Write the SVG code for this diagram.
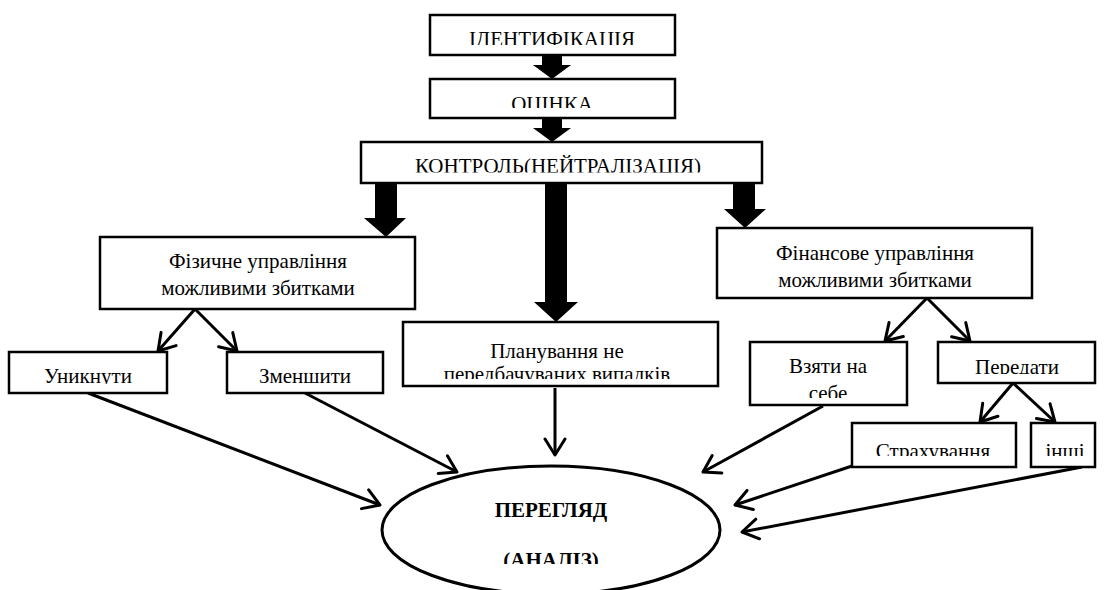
<svg xmlns="http://www.w3.org/2000/svg" width="1119" height="590" viewBox="0 0 1119 590">
<style>
.box{fill:#fff;stroke:#000;stroke-width:2.5}
.t{font-family:"Liberation Serif","Times New Roman",serif;font-size:21px;fill:#000;text-anchor:middle}
.b{font-weight:bold}
.thick{fill:#000}
.ln{stroke:#000;stroke-width:3;fill:none;marker-end:url(#v)}
</style>
<defs>
<marker id="v" markerUnits="userSpaceOnUse" markerWidth="24" markerHeight="24" viewBox="0 0 24 24" refX="18" refY="12" orient="auto">
<path d="M2,2 L18,12 L2,22" fill="none" stroke="#000" stroke-width="3" stroke-linecap="round" stroke-linejoin="round"/>
</marker>
<clipPath id="c1"><rect x="430" y="15" width="245" height="30"/></clipPath>
<clipPath id="c2"><rect x="430" y="79" width="245" height="29"/></clipPath>
<clipPath id="c3"><rect x="361" y="142" width="401" height="30.5"/></clipPath>
<clipPath id="c4"><rect x="0" y="352" width="170" height="32"/></clipPath>
<clipPath id="c5"><rect x="403" y="322" width="315" height="57"/></clipPath>
<clipPath id="c6"><rect x="750" y="342" width="157" height="56"/></clipPath>
<clipPath id="c7"><rect x="938" y="342" width="157" height="32"/></clipPath>
<clipPath id="c8"><rect x="852" y="423" width="243" height="33"/></clipPath>
<clipPath id="c9"><rect x="382" y="466" width="338" height="98"/></clipPath>
</defs>
<rect width="1119" height="590" fill="#fff"/>
<g id="connectors">
<polygon class="thick" points="542,55 562,55 562,65 571,65 552,79 533,65 542,65"/>
<polygon class="thick" points="542,118 562,118 562,128 571,128 552,142 533,128 542,128"/>
<polygon class="thick" points="375,183 397,183 397,218 406,218 386,237 364,218 375,218"/>
<polygon class="thick" points="545,183 567,183 567,302 578,302 556,322 534,302 545,302"/>
<polygon class="thick" points="733,183 755,183 755,209 766,209 745,228 724,209 733,209"/>
<line class="ln" x1="195" y1="309" x2="158" y2="351"/>
<line class="ln" x1="195" y1="309" x2="237" y2="351"/>
<line class="ln" x1="927" y1="298" x2="885" y2="341"/>
<line class="ln" x1="927" y1="298" x2="970" y2="341"/>
<line class="ln" x1="1013" y1="383" x2="980" y2="422"/>
<line class="ln" x1="1013" y1="383" x2="1055" y2="422"/>
<line class="ln" x1="88" y1="393" x2="380" y2="505"/>
<line class="ln" x1="305" y1="393" x2="457" y2="472"/>
<line class="ln" x1="555" y1="388" x2="555" y2="455"/>
<line class="ln" x1="823" y1="406" x2="703" y2="472"/>
<line class="ln" x1="852" y1="466" x2="735" y2="505"/>
<line class="ln" x1="1082" y1="467" x2="742" y2="532"/>
</g>
<g id="n-identification">
<rect class="box" x="430" y="15" width="245" height="40"/>
<text class="t" x="552" y="46" clip-path="url(#c1)">ІДЕНТИФІКАЦІЯ</text>
</g>
<g id="n-assessment">
<rect class="box" x="430" y="79" width="245" height="39"/>
<text class="t" x="552" y="111" clip-path="url(#c2)">ОЦІНКА</text>
</g>
<g id="n-control">
<rect class="box" x="361" y="142" width="401" height="41"/>
<text class="t" x="558" y="173" clip-path="url(#c3)">КОНТРОЛЬ(НЕЙТРАЛІЗАЦІЯ)</text>
</g>
<g id="n-physical">
<rect class="box" x="100" y="237" width="315" height="72"/>
<text class="t" x="258" y="268">Фізичне управління</text>
<text class="t" x="258" y="295">можливими збитками</text>
</g>
<g id="n-avoid">
<rect class="box" x="9" y="352" width="158" height="41"/>
<text class="t" x="88" y="383" clip-path="url(#c4)">Уникнути</text>
</g>
<g id="n-reduce">
<rect class="box" x="227" y="352" width="156" height="41"/>
<text class="t" x="305" y="383">Зменшити</text>
</g>
<g id="n-planning">
<rect class="box" x="403" y="322" width="315" height="64"/>
<text class="t" x="557" y="358" clip-path="url(#c5)">Планування не</text>
<text class="t" x="557" y="381" clip-path="url(#c5)">передбачуваних випадків</text>
</g>
<g id="n-financial">
<rect class="box" x="717" y="228" width="315" height="70"/>
<text class="t" x="875" y="260">Фінансове управління</text>
<text class="t" x="875" y="287">можливими збитками</text>
</g>
<g id="n-retain">
<rect class="box" x="750" y="342" width="157" height="63"/>
<text class="t" x="828" y="373" clip-path="url(#c6)">Взяти на</text>
<text class="t" x="828" y="400" clip-path="url(#c6)">себе</text>
</g>
<g id="n-transfer">
<rect class="box" x="938" y="342" width="157" height="41"/>
<text class="t" x="1017" y="374" clip-path="url(#c7)">Передати</text>
</g>
<g id="n-insurance">
<rect class="box" x="852" y="423" width="164" height="44"/>
<text class="t" x="933" y="458" clip-path="url(#c8)">Страхування</text>
</g>
<g id="n-other">
<rect class="box" x="1031" y="423" width="64" height="44"/>
<text class="t" x="1065" y="458" clip-path="url(#c8)">інші</text>
</g>
<g id="n-review">
<ellipse cx="551" cy="530" rx="169" ry="64" fill="#fff" stroke="#000" stroke-width="3"/>
<text class="t b" x="551" y="517">ПЕРЕГЛЯД</text>
<text class="t b" x="551" y="567" clip-path="url(#c9)">(АНАЛІЗ)</text>
</g>
</svg>
